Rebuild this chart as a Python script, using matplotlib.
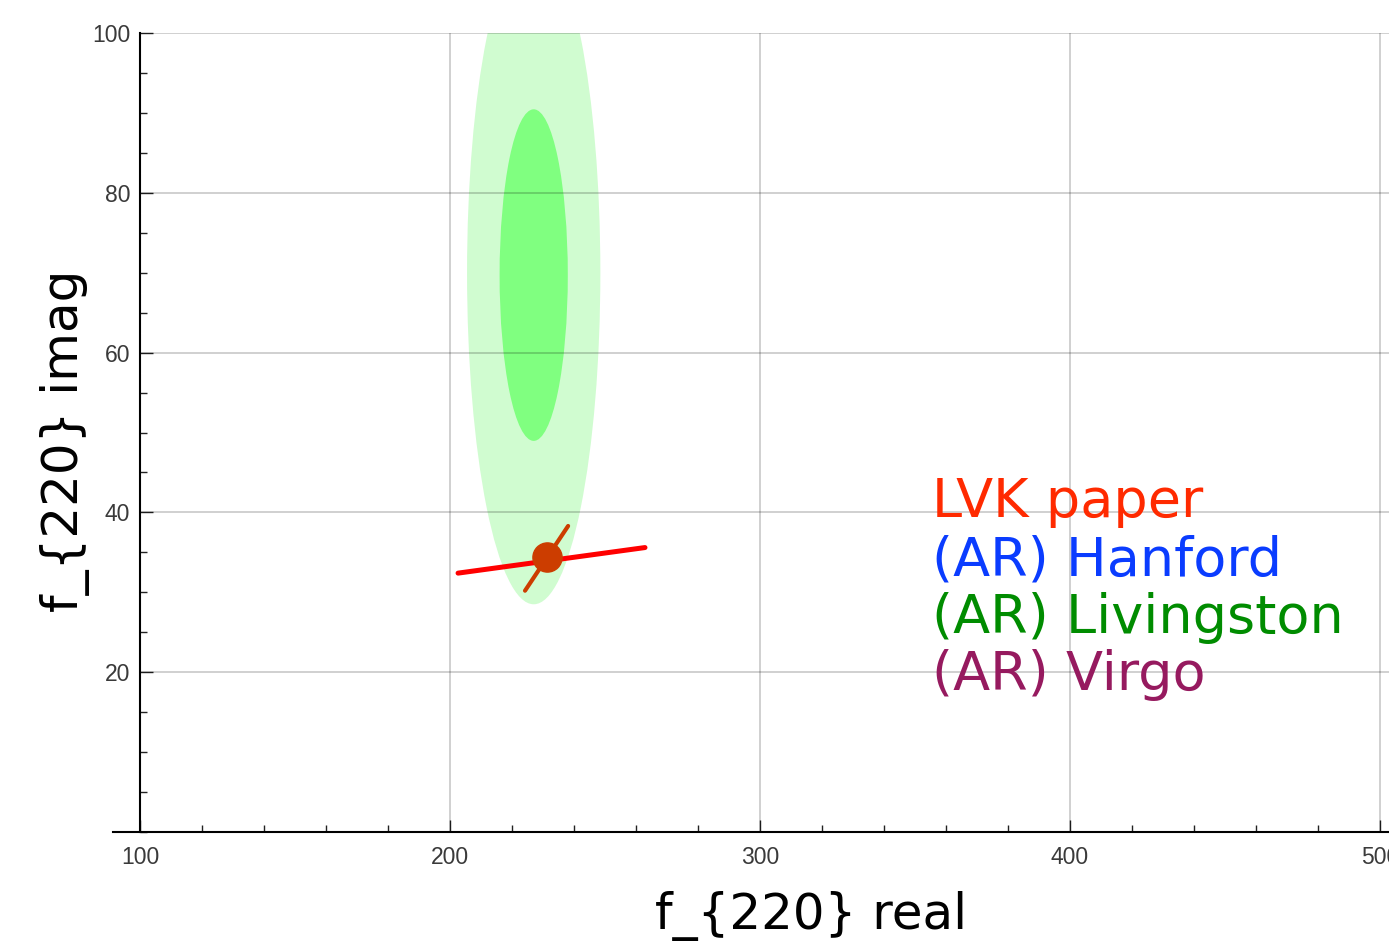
import matplotlib
matplotlib.use("Agg")
import matplotlib.pyplot as plt
from matplotlib.patches import Ellipse
from matplotlib.ticker import MultipleLocator

# data
x_major = [100, 200, 300, 400, 500]
y_major = [20, 40, 60, 80, 100]

# AR Livingston contours (outer = 90%, inner = 50%)
ell_center_re = [227.0, 227.0]
ell_center_im = [70.0, 69.7]
ell_width = [43.0, 22.0]
ell_height = [83.0, 41.5]
ell_colors = ["#d0fcd0", "#80ff80"]

# LVK paper estimate and its error bars
lvk_re = 231.3
lvk_im = 34.4
lvk_bar1_re = [202.6, 262.9]
lvk_bar1_im = [32.4, 35.6]
lvk_bar2_re = [224.2, 238.1]
lvk_bar2_im = [30.2, 38.3]

legend_labels = ["LVK paper", "(AR) Hanford", "(AR) Livingston", "(AR) Virgo"]
legend_colors = ["#ff2a00", "#0a3cff", "#008c00", "#961a5f"]

W, H = 1389, 942
fig = plt.figure(figsize=(W / 100, H / 100), dpi=100)
ax = fig.add_axes([113 / W, 110 / H, 1 - 113 / W, (832 - 33) / H])
ax.set_xlim(100 - 27 / 3.1, 100 + (W - 140) / 3.1)
ax.set_ylim(0, 100)

for i in range(len(ell_width)):
    ax.add_patch(Ellipse((ell_center_re[i], ell_center_im[i]), ell_width[i], ell_height[i],
                         facecolor=ell_colors[i], edgecolor="none", zorder=1))

# grid
ax.vlines(x_major[1:], 0, 100, color="k", alpha=0.2, lw=1.3, zorder=3)
ax.hlines(y_major, 100, ax.get_xlim()[1], color="k", alpha=0.2, lw=1.3, zorder=3)

ax.plot(lvk_bar1_re, lvk_bar1_im, color="#ff0000", lw=3.6, solid_capstyle="round", zorder=4)
ax.plot(lvk_bar2_re, lvk_bar2_im, color="#cc3d00", lw=3.0, solid_capstyle="round", zorder=4)
ax.plot([lvk_re], [lvk_im], "o", color="#cc3d00", ms=21, zorder=5)

# axes styling (Mathematica-like)
for s in ["top", "right"]:
    ax.spines[s].set_visible(False)
ax.spines["left"].set_position(("data", 100))
ax.spines["left"].set_bounds(0, 100)
ax.spines["left"].set_linewidth(1.5)
ax.spines["bottom"].set_linewidth(1.5)

ax.set_xticks(x_major)
ax.set_yticks(y_major)
ax.xaxis.set_minor_locator(MultipleLocator(20))
ax.yaxis.set_minor_locator(MultipleLocator(5))
ax.tick_params(which="both", direction="in", width=1.0, colors="#222222",
               labelcolor="#3a3a3a", labelsize=16.5, labelfontfamily="Liberation Sans")
ax.tick_params(which="major", length=9)
ax.tick_params(which="minor", length=5)
ax.tick_params(axis="x", pad=10)
ax.tick_params(axis="y", pad=7)

lab_font = "DejaVu Sans"
fig.text(811 / W, 1 - 929 / H, "f_{220} real", ha="center", va="baseline",
         fontsize=36, family=lab_font)
fig.text(78 / W, 1 - 441 / H, "f_{220} imag", ha="center", va="baseline",
         rotation=90, rotation_mode="anchor", fontsize=36, family=lab_font)

baselines = [517, 575, 633, 690]
for lab, col, yb in zip(legend_labels, legend_colors, baselines):
    fig.text(932 / W, 1 - yb / H, lab, color=col, ha="left", va="baseline",
             fontsize=39, family=lab_font)

fig.savefig("out.png", dpi=100)
